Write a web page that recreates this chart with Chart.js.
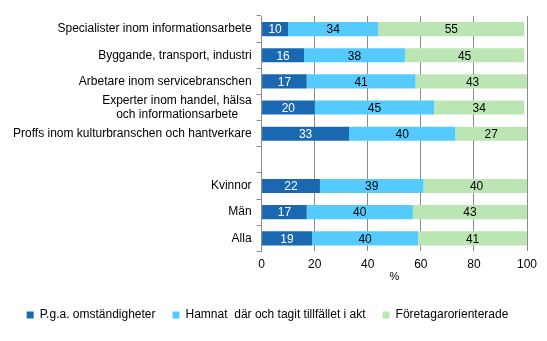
<!DOCTYPE html>
<html>
<head>
<meta charset="utf-8">
<script src="https://cdn.jsdelivr.net/npm/chart.js@4"></script>
<style>
  html, body { margin: 0; padding: 0; background: #fff; }
  #wrap { width: 547px; height: 341px; position: relative; }
</style>
</head>
<body>
<div id="wrap"><canvas id="chart"></canvas></div>
<script>
'use strict';

/*** DATA ***/

var categories = [
  'Specialister inom informationsarbete',
  'Byggande, transport, industri',
  'Arbetare inom servicebranschen',
  ['Experter inom handel, hälsa', 'och informationsarbete    '],
  'Proffs inom kulturbranschen och hantverkare',
  '',
  'Kvinnor',
  'Män',
  'Alla'
];
var seriesNames = ['P.g.a. omständigheter', 'Hamnat  där och tagit tillfället i akt', 'Företagarorienterade'];
var omstandigheter = [10, 16, 17, 20, 33, null, 22, 17, 19];
var hamnat = [34, 38, 41, 45, 40, null, 39, 40, 40];
var foretagare = [55, 45, 43, 34, 27, null, 40, 43, 41];
var xTicks = [0, 20, 40, 60, 80, 100];

var colors = ['#1a68b2', '#55cbfd', '#bce5b4'];
var labelColors = ['#ffffff', '#000000', '#000000'];

/*** VALUE LABELS ***/

// writes the value in the middle of each bar segment
var valueLabels = {
  id: 'valueLabels',
  afterDatasetsDraw: function(chart) {
    var ctx = chart.ctx;
    ctx.save();
    ctx.font = '12px "Liberation Sans", Arial, sans-serif';
    ctx.textAlign = 'center';
    ctx.textBaseline = 'middle';
    chart.data.datasets.forEach(function(ds, d) {
      var meta = chart.getDatasetMeta(d);
      meta.data.forEach(function(bar, i) {
        var v = ds.data[i];
        if (v === null || v === undefined) return;
        ctx.fillStyle = labelColors[d];
        ctx.fillText(String(v), (bar.x + bar.base) / 2, bar.y + 1);
      });
    });
    ctx.restore();
  }
};

/*** CHART ***/

Chart.defaults.font.family = '"Liberation Sans", Arial, sans-serif';
Chart.defaults.font.size = 11;
Chart.defaults.color = '#000';

var ctx = document.getElementById('chart').getContext('2d');
var chart = new Chart(ctx, {
  type: 'bar',
  data: {
    labels: categories,
    datasets: [
      { label: seriesNames[0], data: omstandigheter, backgroundColor: colors[0] },
      { label: seriesNames[1], data: hamnat, backgroundColor: colors[1] },
      { label: seriesNames[2], data: foretagare, backgroundColor: colors[2] }
    ]
  },
  options: {
    indexAxis: 'y',
    responsive: true,
    maintainAspectRatio: false,
    animation: false,
    datasets: {
      bar: { categoryPercentage: 1, barPercentage: 0.54, borderWidth: 0 }
    },
    layout: { padding: { left: 8, right: 20, top: 16, bottom: 10 } },
    scales: {
      x: {
        stacked: true,
        min: 0,
        max: 100,
        afterBuildTicks: function(axis) {
          axis.ticks = xTicks.map(function(v) { return { value: v }; });
        },
        grid: { color: '#8c8c8c', drawTicks: false, lineWidth: 1 },
        border: { display: false },
        ticks: { padding: 6, font: { size: 12 } },
        title: { display: true, text: '%', padding: { top: -7, bottom: 8 }, font: { size: 11 } }
      },
      y: {
        stacked: true,
        grid: { display: true, drawOnChartArea: false, color: '#8c8c8c', tickLength: 5, offset: true },
        border: { display: true, color: '#8c8c8c' },
        ticks: { padding: 5, autoSkip: false, font: { size: 12 } }
      }
    },
    plugins: {
      legend: {
        position: 'bottom',
        labels: { boxWidth: 7, boxHeight: 7, padding: 17, font: { size: 12 } }
      },
      tooltip: { enabled: false }
    }
  },
  plugins: [valueLabels]
});
</script>
</body>
</html>
